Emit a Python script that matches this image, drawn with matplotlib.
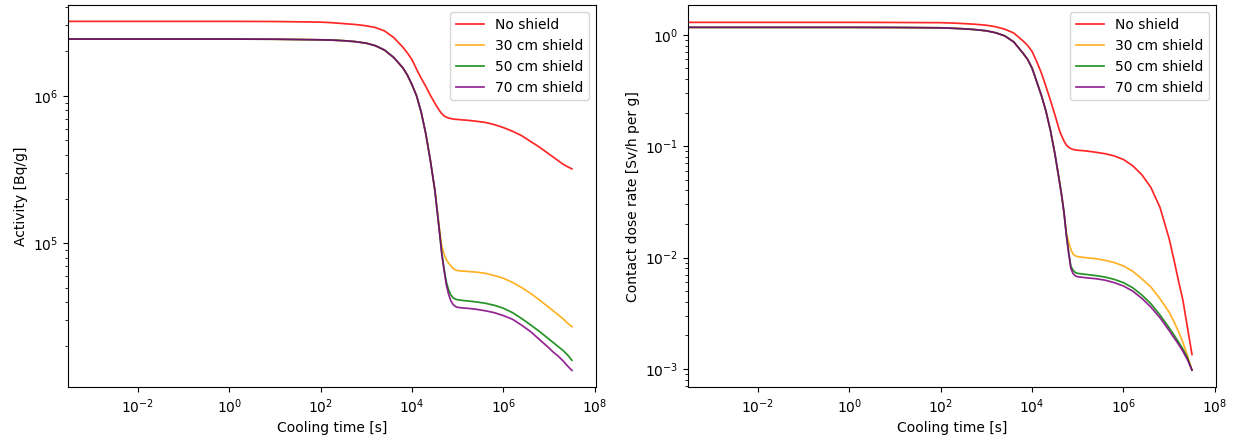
import numpy as np
import matplotlib
matplotlib.use("Agg")
import matplotlib.pyplot as plt

# Cooling times, as log10(seconds)
log_times = [-4, 0, 1, 2, 2.25, 2.5, 2.75, 3.0, 3.2, 3.4, 3.6, 3.8, 3.9, 4.0, 4.1, 4.2,
             4.3, 4.4, 4.5, 4.6, 4.65, 4.7, 4.75, 4.8, 4.85, 4.9, 4.95, 5.0, 5.1, 5.2,
             5.4, 5.6, 5.8, 6.0, 6.2, 6.4, 6.6, 6.8, 7.0, 7.1, 7.2, 7.3, 7.4, 7.5]

labels = ["No shield", "30 cm shield", "50 cm shield", "70 cm shield"]
colors = ["red", "orange", "green", "purple"]

# Activity [Bq/g], log10 values
act_no_shield = [6.505, 6.505, 6.504, 6.50, 6.496, 6.49, 6.484, 6.475, 6.463, 6.44, 6.395, 6.33,
                 6.29, 6.245, 6.18, 6.12, 6.065, 6.005, 5.95, 5.90, 5.88, 5.865, 5.856, 5.85,
                 5.846, 5.843, 5.841, 5.84, 5.837, 5.835, 5.828, 5.82, 5.805, 5.785, 5.76,
                 5.73, 5.69, 5.65, 5.605, 5.583, 5.56, 5.538, 5.52, 5.505]
act_30cm = [6.385, 6.385, 6.384, 6.38, 6.378, 6.374, 6.368, 6.357, 6.34, 6.31, 6.26, 6.19,
            6.14, 6.075, 6.0, 5.89, 5.745, 5.565, 5.36, 5.10, 4.98, 4.93, 4.89, 4.865,
            4.848, 4.83, 4.82, 4.815, 4.812, 4.81, 4.805, 4.797, 4.782, 4.763, 4.735,
            4.70, 4.66, 4.613, 4.565, 4.54, 4.515, 4.49, 4.46, 4.435]
act_50cm = [6.385, 6.385, 6.384, 6.38, 6.378, 6.374, 6.368, 6.357, 6.34, 6.31, 6.26, 6.19,
            6.14, 6.075, 6.0, 5.89, 5.745, 5.565, 5.36, 5.08, 4.94, 4.83, 4.74, 4.685,
            4.65, 4.63, 4.622, 4.617, 4.613, 4.61, 4.603, 4.594, 4.58, 4.56, 4.53,
            4.49, 4.446, 4.40, 4.35, 4.325, 4.30, 4.275, 4.245, 4.207]
act_70cm = [6.385, 6.385, 6.384, 6.38, 6.378, 6.374, 6.368, 6.357, 6.34, 6.31, 6.26, 6.19,
            6.14, 6.075, 6.0, 5.89, 5.745, 5.565, 5.36, 5.08, 4.93, 4.82, 4.72, 4.655,
            4.61, 4.585, 4.572, 4.566, 4.562, 4.56, 4.553, 4.543, 4.53, 4.51, 4.485,
            4.445, 4.40, 4.345, 4.29, 4.26, 4.235, 4.205, 4.17, 4.138]

# Contact dose rate [Sv/h per g], log10 values
dose_no_shield = [0.111, 0.111, 0.11, 0.108, 0.105, 0.10, 0.094, 0.085, 0.072, 0.05, 0.015, -0.055,
                  -0.095, -0.15, -0.24, -0.34, -0.46, -0.587, -0.72, -0.86, -0.91, -0.955, -0.99, -1.01,
                  -1.022, -1.03, -1.034, -1.037, -1.04, -1.044, -1.055, -1.068, -1.088, -1.12, -1.175,
                  -1.255, -1.37, -1.55, -1.83, -2.01, -2.20, -2.38, -2.625, -2.87]
dose_30cm = [0.066, 0.066, 0.065, 0.062, 0.058, 0.053, 0.046, 0.035, 0.018, -0.01, -0.065, -0.165,
             -0.22, -0.30, -0.42, -0.54, -0.68, -0.856, -1.07, -1.32, -1.45, -1.60, -1.78, -1.86,
             -1.93, -1.97, -1.985, -1.992, -1.997, -2.002, -2.01, -2.025, -2.045, -2.075, -2.122,
             -2.19, -2.264, -2.37, -2.49, -2.57, -2.66, -2.76, -2.88, -3.01]
dose_50cm = [0.066, 0.066, 0.065, 0.062, 0.058, 0.053, 0.046, 0.035, 0.018, -0.01, -0.065, -0.165,
             -0.22, -0.30, -0.42, -0.54, -0.68, -0.856, -1.07, -1.32, -1.45, -1.60, -1.79, -1.95,
             -2.08, -2.115, -2.135, -2.142, -2.147, -2.152, -2.162, -2.175, -2.196, -2.225, -2.27,
             -2.335, -2.414, -2.515, -2.63, -2.69, -2.755, -2.82, -2.90, -3.01]
dose_70cm = [0.066, 0.066, 0.065, 0.062, 0.058, 0.053, 0.046, 0.035, 0.018, -0.01, -0.065, -0.165,
             -0.22, -0.30, -0.42, -0.54, -0.68, -0.856, -1.07, -1.32, -1.45, -1.60, -1.80, -1.96,
             -2.10, -2.145, -2.165, -2.172, -2.177, -2.182, -2.19, -2.203, -2.225, -2.255, -2.30,
             -2.365, -2.444, -2.54, -2.655, -2.715, -2.775, -2.84, -2.915, -3.01]

activity = [act_no_shield, act_30cm, act_50cm, act_70cm]
dose = [dose_no_shield, dose_30cm, dose_50cm, dose_70cm]

fig, (ax1, ax2) = plt.subplots(1, 2, figsize=(12.34, 4.42), dpi=100)
fig.subplots_adjust(left=0.0553, right=0.9852, bottom=0.1238, top=0.988, wspace=0.1756)

t = 10 ** np.array(log_times, dtype=float)
for ax, series, ylabel in [(ax1, activity, "Activity [Bq/g]"),
                           (ax2, dose, "Contact dose rate [Sv/h per g]")]:
    for vals, lab, col in zip(series, labels, colors):
        ax.plot(t, 10 ** np.array(vals), color=col, label=lab, lw=1.25, alpha=0.85)
    ax.set_xscale("log")
    ax.set_yscale("log")
    ax.set_xlabel("Cooling time [s]")
    ax.set_ylabel(ylabel)
    ax.set_xlim(10 ** -3.525, 10 ** 8.02)
    ax.legend(loc="upper right")

ax1.set_ylim(10 ** 4.024, 10 ** 6.614)
ax2.set_ylim(10 ** -3.164, 10 ** 0.264)

fig.savefig("out.png", dpi=100)
